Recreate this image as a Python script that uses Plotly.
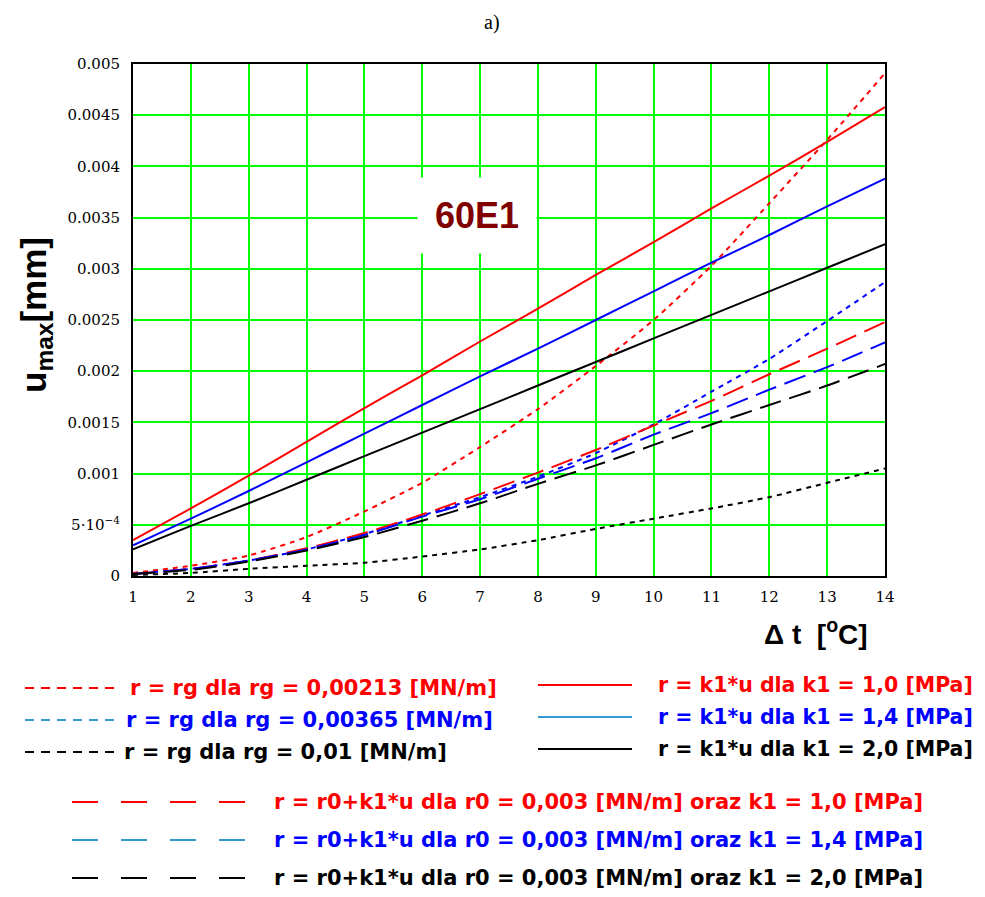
import plotly.graph_objects as go

# ---------------- data ----------------
dt = [1, 2, 3, 4, 5, 6, 7, 8, 9, 10, 11, 12, 13, 14]

# r = rg (short dashes)
u_rg_00213 = [0.00003, 0.00010, 0.00020, 0.00038, 0.00063, 0.00091, 0.00126,
              0.00163, 0.00205, 0.00250, 0.00303, 0.00364, 0.00426, 0.00491]
u_rg_00365 = [0.00002, 0.00007, 0.00015, 0.00026, 0.00041, 0.00059, 0.00077,
              0.00097, 0.00120, 0.00148, 0.00180, 0.00212, 0.00249, 0.00287]
u_rg_001 = [0.00001, 0.00003, 0.00007, 0.00010, 0.00013, 0.00019, 0.00026,
            0.00035, 0.00046, 0.00056, 0.00066, 0.00077, 0.00091, 0.00105]

# r = k1*u (solid)
u_k1_10 = [0.00035, 0.00066, 0.00098, 0.00131, 0.00164, 0.00196, 0.00229,
           0.00261, 0.00294, 0.00326, 0.00359, 0.00391, 0.00424, 0.00458]
u_k1_14 = [0.00030, 0.00056, 0.00083, 0.00111, 0.00139, 0.00167, 0.00195,
           0.00222, 0.00250, 0.00278, 0.00306, 0.00333, 0.00361, 0.00388]
u_k1_20 = [0.00026, 0.00049, 0.00071, 0.00094, 0.00117, 0.00140, 0.00163,
           0.00186, 0.00209, 0.00232, 0.00255, 0.00278, 0.00301, 0.00324]

# r = r0 + k1*u (long dashes)
u_r0_10 = [0.00002, 0.00007, 0.00015, 0.00027, 0.00042, 0.00060, 0.00080,
           0.00101, 0.00123, 0.00147, 0.00171, 0.00197, 0.00222, 0.00248]
u_r0_14 = [0.00002, 0.00007, 0.00015, 0.00026, 0.00040, 0.00058, 0.00075,
           0.00095, 0.00115, 0.00138, 0.00159, 0.00182, 0.00204, 0.00228]
u_r0_20 = [0.00002, 0.00006, 0.00014, 0.00025, 0.00038, 0.00054, 0.00071,
           0.00090, 0.00108, 0.00128, 0.00148, 0.00167, 0.00186, 0.00207]

y_tickvals = [0, 0.0005, 0.001, 0.0015, 0.002, 0.0025, 0.003, 0.0035, 0.004, 0.0045, 0.005]
y_ticktext = ["0", "5\u00b710<sup>\u22124</sup>", "0.001", "0.0015", "0.002", "0.0025",
              "0.003", "0.0035", "0.004", "0.0045", "0.005"]

title_text = "a)"
labels_rg = ["r = rg dla rg = 0,00213 [MN/m]",
             "r = rg dla rg = 0,00365 [MN/m]",
             "r = rg dla rg = 0,01 [MN/m]"]
labels_k1 = ["r = k1*u dla k1 = 1,0 [MPa]",
             "r = k1*u dla k1 = 1,4 [MPa]",
             "r = k1*u dla k1 = 2,0 [MPa]"]
labels_r0 = ["r = r0+k1*u dla r0 = 0,003 [MN/m] oraz k1 = 1,0 [MPa]",
             "r = r0+k1*u dla r0 = 0,003 [MN/m] oraz k1 = 1,4 [MPa]",
             "r = r0+k1*u dla r0 = 0,003 [MN/m] oraz k1 = 2,0 [MPa]"]

# ---------------- styles ----------------
line_colors = ["#ff0000", "#0000ff", "#000000"]
text_colors = ["#ff0000", "#0000ff", "#000000"]
swatch_colors = ["#ff0000", "#3399cc", "#000000"]
DASH_RG = "5px,5px"
DASH_R0 = "22px,9px"

OFF = 8  # default page body margin
W, H = 985 - 2 * OFF, 897 - 2 * OFF
# plot area in screen pixels: left 133, right 885, top 64, bottom 576
L, T = 133 - OFF, 64 - OFF
R = W - (885 - OFF)
B = H - (576 - OFF)
PW, PH = W - L - R, H - T - B


def px(xs):
    return (xs - OFF - L) / PW


def py(ys):
    return (H - B - (ys - OFF)) / PH


fig = go.Figure()

series = [
    (u_rg_00213, 0, DASH_RG), (u_rg_00365, 1, DASH_RG), (u_rg_001, 2, DASH_RG),
    (u_k1_10, 0, "solid"), (u_k1_14, 1, "solid"), (u_k1_20, 2, "solid"),
    (u_r0_10, 0, DASH_R0), (u_r0_14, 1, DASH_R0), (u_r0_20, 2, DASH_R0),
]
for ys, ci, dash in series:
    fig.add_trace(go.Scatter(
        x=dt, y=ys, mode="lines",
        line=dict(color=line_colors[ci], width=2, dash=dash, shape="spline", smoothing=0.6),
        showlegend=False, hoverinfo="skip"))

# ---------------- custom legend ----------------
shapes = []
annotations = []
legend_font = "DejaVu Sans"


def add_entry(x0, x1, yline, dash, ci, text, xtext, size):
    shapes.append(dict(type="line", xref="paper", yref="paper",
                       x0=px(x0), x1=px(x1), y0=py(yline), y1=py(yline),
                       line=dict(color=swatch_colors[ci], width=2, dash=dash)))
    annotations.append(dict(xref="paper", yref="paper", x=px(xtext), y=py(yline),
                            xanchor="left", yanchor="middle", showarrow=False,
                            text="<b>" + text + "</b>",
                            font=dict(family=legend_font, size=size, color=text_colors[ci])))


for i, yl in enumerate([688, 720, 752]):
    add_entry(25, 115, yl, "9px,7px", i, labels_rg[i], [128, 124, 122][i], 21)
for i, yl in enumerate([685, 717, 749]):
    add_entry(538, 632, yl, "solid", i, labels_k1[i], 656, 20.5)
for i, yl in enumerate([802, 840, 878]):
    add_entry(72, 245, yl, "26px,23px", i, labels_r0[i], 272, 21)

# title "a)"
annotations.append(dict(xref="paper", yref="paper", x=px(492), y=py(OFF + 2),
                        xanchor="center", yanchor="top", showarrow=False,
                        text=title_text, borderpad=0,
                        font=dict(family="Liberation Serif", size=20, color="black")))
# 60E1 label
annotations.append(dict(x=6.95, y=0.00352, xref="x", yref="y", showarrow=False,
                        text="<b>60E1</b>", bgcolor="white", borderpad=17,
                        font=dict(family="Liberation Sans", size=36, color="#800000")))
# y-axis title
annotations.append(dict(xref="paper", yref="paper", x=px(36), y=py(315),
                        xanchor="center", yanchor="middle", showarrow=False,
                        textangle=-90, text="<b>u<sub>max</sub>[mm]</b>",
                        font=dict(family="Liberation Sans", size=35, color="black")))
# x-axis title
annotations.append(dict(xref="paper", yref="paper", x=px(816), y=py(632),
                        xanchor="center", yanchor="middle", showarrow=False,
                        text="<b>\u0394 t  [<sup>o</sup>C]</b>",
                        font=dict(family="Liberation Sans", size=28, color="black")))

fig.update_layout(
    width=W, height=H,
    margin=dict(l=L, r=R, t=T, b=B),
    paper_bgcolor="white", plot_bgcolor="white",
    shapes=shapes, annotations=annotations,
    showlegend=False,
)
fig.update_xaxes(range=[1, 14], tickvals=dt, ticktext=[str(v) for v in dt],
                 showgrid=True, gridcolor="#00ff00", gridwidth=2,
                 showline=True, linecolor="black", linewidth=2, mirror=True,
                 zeroline=False, ticks="", ticklabelstandoff=6,
                 tickfont=dict(family="DejaVu Serif", size=15, color="black"))
fig.update_yaxes(range=[0, 0.005], tickvals=y_tickvals, ticktext=y_ticktext,
                 showgrid=True, gridcolor="#00ff00", gridwidth=2,
                 showline=True, linecolor="black", linewidth=2, mirror=True,
                 zeroline=False, ticks="", ticklabelstandoff=8,
                 tickfont=dict(family="DejaVu Serif", size=15, color="black"))

fig.write_html("out.html")
